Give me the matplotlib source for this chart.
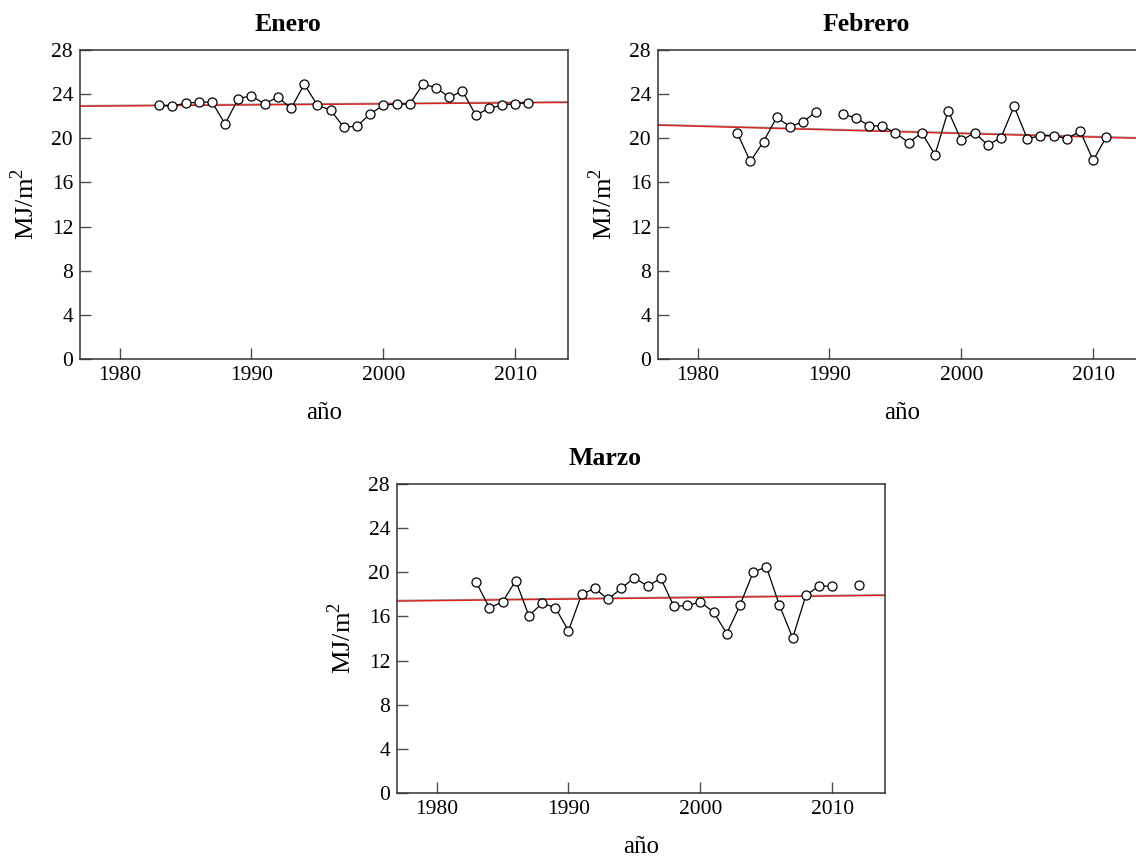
import numpy as np
import matplotlib
matplotlib.use("Agg")
import matplotlib.pyplot as plt

plt.rcParams['font.family'] = ['Liberation Serif', 'DejaVu Serif']
plt.rcParams['mathtext.fontset'] = 'custom'
plt.rcParams['mathtext.rm'] = 'Liberation Serif'

# monthly mean radiation (MJ/m2); nan = missing year
years_ene = np.arange(1983, 2012)
ene = [23.0, 22.9, 23.2, 23.25, 23.3, 21.3, 23.6, 23.85, 23.1, 23.75,
       22.7, 24.9, 23.0, 22.55, 21.0, 21.1, 22.2, 23.0, 23.1, 23.1,
       24.9, 24.6, 23.7, 24.3, 22.1, 22.7, 23.0, 23.15, 23.2]

years_feb = np.arange(1983, 2012)
feb = [20.5, 17.9, 19.7, 21.9, 21.05, 21.5, 22.4, np.nan, 22.2, 21.85,
       21.15, 21.1, 20.5, 19.6, 20.5, 18.5, 22.5, 19.8, 20.5, 19.4,
       20.05, 22.9, 19.95, 20.25, 20.25, 19.95, 20.65, 18.0, 20.15]

years_mar = np.arange(1983, 2013)
mar = [19.1, 16.8, 17.3, 19.25, 16.05, 17.2, 16.8, 14.7, 18.0, 18.55,
       17.55, 18.55, 19.5, 18.75, 19.45, 16.9, 17.0, 17.3, 16.4, 14.45,
       17.0, 20.0, 20.5, 17.0, 14.05, 17.9, 18.75, 18.75, np.nan, 18.85]

titles = ['Enero', 'Febrero', 'Marzo']
yticks = [0, 4, 8, 12, 16, 20, 24, 28]
xticks = [1980, 1990, 2000, 2010]


def panel(ax, years, vals, title):
    vals = np.array(vals, dtype=float)
    ok = ~np.isnan(vals)
    xl = np.array([1977.0, 2014.0])

    # linear trend: grey underlay with the red fit on top
    p = np.polyfit(years[ok], vals[ok], 1)
    ax.plot(xl, np.polyval(p, xl) + 0.05, color='0.6', lw=1.2, zorder=2)
    ax.plot(xl, np.polyval(p, xl), color='#e0201b', lw=1.0, zorder=2)

    ax.plot(years, vals, color='black', lw=0.9, marker='o', ms=6.5,
            mfc='white', mec='black', mew=0.9, zorder=3)

    ax.set_xlim(xl)
    ax.set_ylim(0, 28)
    ax.set_xticks(xticks)
    ax.set_yticks(yticks)
    ax.tick_params(direction='in', length=8, width=1, color='0.3',
                   labelsize=15.5, pad=5)
    for s in ax.spines.values():
        s.set_linewidth(1.1)
        s.set_color('0.2')
    ax.set_title(title, fontsize=18.5, fontweight='bold', pad=14, x=0.426)
    ax.set_xlabel('año', fontsize=18, labelpad=12)
    ax.set_ylabel('MJ/m$^2$', fontsize=19, labelpad=9)


fig = plt.figure(figsize=(11.36, 8.56), dpi=100)
W, H = 1136, 856
ax1 = fig.add_axes([80 / W, (H - 359) / H, 488 / W, 309 / H])
ax2 = fig.add_axes([658 / W, (H - 359) / H, 488 / W, 309 / H])
ax3 = fig.add_axes([397 / W, (H - 793) / H, 488 / W, 309 / H])

panel(ax1, years_ene, ene, titles[0])
panel(ax2, years_feb, feb, titles[1])
panel(ax3, years_mar, mar, titles[2])

fig.savefig('out.png', dpi=100)
